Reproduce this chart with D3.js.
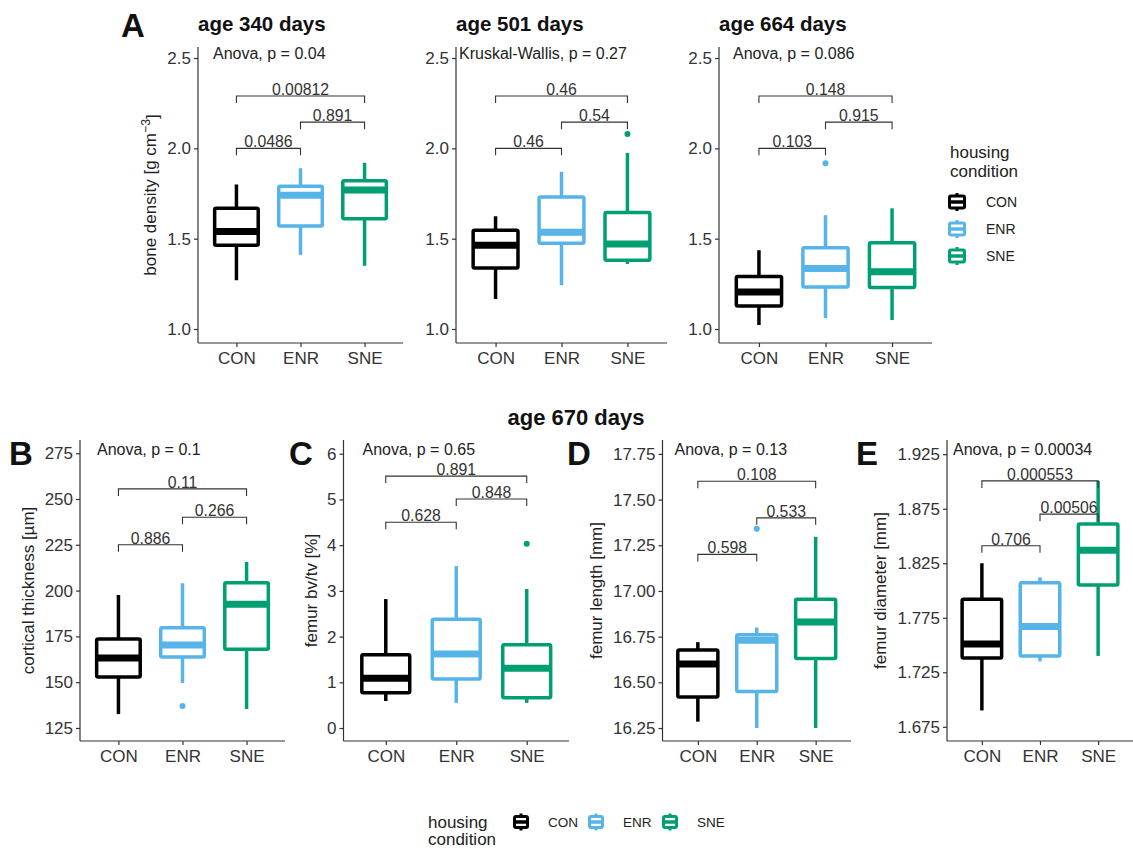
<!DOCTYPE html>
<html>
<head>
<meta charset="utf-8">
<script src="https://cdn.jsdelivr.net/npm/d3@7"></script>
<style>
  body { margin: 0; background: #fff; }
  svg { font-family: "Liberation Sans", Arial, sans-serif; }
</style>
</head>
<body>
<svg id="chart" width="1133" height="848"></svg>
<script>
// groups and colours
const groups = ["CON", "ENR", "SNE"];
const groupColors = ["#000000", "#56B4E9", "#009E73"];

// box stats per group: [whisker low, q1, median, q3, whisker high]
const density340 = [[1.27, 1.464, 1.54, 1.668, 1.80], [1.41, 1.57, 1.74, 1.79, 1.89], [1.35, 1.61, 1.77, 1.82, 1.92]];
const density340Out = [[], [], []];
const density501 = [[1.166, 1.337, 1.464, 1.547, 1.624], [1.243, 1.475, 1.536, 1.73, 1.87], [1.36, 1.38, 1.47, 1.645, 1.975]];
const density501Out = [[], [], [2.08]];
const density664 = [[1.022, 1.127, 1.205, 1.29, 1.436], [1.06, 1.232, 1.335, 1.45, 1.63], [1.05, 1.23, 1.317, 1.477, 1.668]];
const density664Out = [[], [1.917], []];
const cortical = [[132.6, 152.8, 163.2, 173.6, 197.6], [149.6, 163.8, 170.3, 179.7, 204], [135.4, 168, 192.6, 204.3, 215.6]];
const corticalOut = [[], [137], []];
const bvtv = [[0.59, 0.77, 1.09, 1.60, 2.82], [0.55, 1.07, 1.62, 2.38, 3.54], [0.55, 0.66, 1.31, 1.82, 3.04]];
const bvtvOut = [[], [], [4.03]];
const femurLength = [[16.285, 16.42, 16.6, 16.677, 16.72], [16.25, 16.45, 16.73, 16.76, 16.80], [16.25, 16.63, 16.83, 16.955, 17.296]];
const femurLengthOut = [[], [17.34], []];
const femurDiam = [[1.69, 1.738, 1.751, 1.792, 1.825], [1.735, 1.740, 1.767, 1.807, 1.812], [1.74, 1.805, 1.837, 1.861, 1.9005]];
const femurDiamOut = [[], [], []];

// pairwise brackets: [from, to, label, y]
const density340Brk = [[0, 1, "0.0486", 2.0], [1, 2, "0.891", 2.145], [0, 2, "0.00812", 2.29]];
const density501Brk = [[0, 1, "0.46", 2.0], [1, 2, "0.54", 2.145], [0, 2, "0.46", 2.29]];
const density664Brk = [[0, 1, "0.103", 2.0], [1, 2, "0.915", 2.145], [0, 2, "0.148", 2.29]];
const corticalBrk = [[0, 1, "0.886", 225], [1, 2, "0.266", 240], [0, 2, "0.11", 255.5]];
const bvtvBrk = [[0, 1, "0.628", 4.5], [1, 2, "0.848", 5.01], [0, 2, "0.891", 5.51]];
const femurLengthBrk = [[0, 1, "0.598", 17.2], [1, 2, "0.533", 17.4], [0, 2, "0.108", 17.6]];
const femurDiamBrk = [[0, 1, "0.706", 1.841], [1, 2, "0.00506", 1.870], [0, 2, "0.000553", 1.9005]];

// global tests
const globalTests = ["Anova, p = 0.04", "Kruskal-Wallis, p = 0.27", "Anova, p = 0.086", "Anova, p = 0.1", "Anova, p = 0.65", "Anova, p = 0.13", "Anova, p = 0.00034"];

// y tick values
const densityTicks = [1.0, 1.5, 2.0, 2.5];
const corticalTicks = [125, 150, 175, 200, 225, 250, 275];
const bvtvTicks = [0, 1, 2, 3, 4, 5, 6];
const lengthTicks = [16.25, 16.5, 16.75, 17.0, 17.25, 17.5, 17.75];
const diamTicks = [1.675, 1.725, 1.775, 1.825, 1.875, 1.925];

const svg = d3.select("#chart");
const axisColor = "#333333";

const panels = [
  { stats: density340, out: density340Out, brk: density340Brk, test: globalTests[0], ticks: densityTicks, fmt: ".1f",
    x0: 198, x1: 403, y0: 47, y1: 343, dom: [0.9225, 2.561], testDx: 15, testDy: 11.5, title: "age 340 days",
    yTitle: ["bone density [g cm", "\u22123", "]"], yTitleX: 150, letter: "A", letterX: 121, letterY: 37 },
  { stats: density501, out: density501Out, brk: density501Brk, test: globalTests[1], ticks: densityTicks, fmt: ".1f",
    x0: 456, x1: 667, y0: 47, y1: 343, dom: [0.9225, 2.561], testDx: 3, testDy: 11.5, title: "age 501 days" },
  { stats: density664, out: density664Out, brk: density664Brk, test: globalTests[2], ticks: densityTicks, fmt: ".1f",
    x0: 719, x1: 932, y0: 47, y1: 343, dom: [0.9225, 2.561], testDx: 14, testDy: 11.5, title: "age 664 days" },
  { stats: cortical, out: corticalOut, brk: corticalBrk, test: globalTests[3], ticks: corticalTicks, fmt: "d",
    x0: 80, x1: 285, y0: 440, y1: 741, dom: [117.9, 282.2], testDx: 17, testDy: 15,
    yTitle: ["cortical thickness [\u00b5m]"], yTitleX: 28, letter: "B", letterX: 9, letterY: 465 },
  { stats: bvtv, out: bvtvOut, brk: bvtvBrk, test: globalTests[4], ticks: bvtvTicks, fmt: "d",
    x0: 343.5, x1: 569, y0: 440, y1: 741, dom: [-0.284, 6.30], testDx: 19, testDy: 15,
    yTitle: ["femur bv/tv [%]"], yTitleX: 311, letter: "C", letterX: 289, letterY: 465 },
  { stats: femurLength, out: femurLengthOut, brk: femurLengthBrk, test: globalTests[5], ticks: lengthTicks, fmt: ".2f",
    x0: 662.5, x1: 851, y0: 440, y1: 741, dom: [16.179, 17.826], testDx: 12, testDy: 15,
    yTitle: ["femur length [mm]"], yTitleX: 596, letter: "D", letterX: 567, letterY: 465 },
  { stats: femurDiam, out: femurDiamOut, brk: femurDiamBrk, test: globalTests[6], ticks: diamTicks, fmt: ".3f",
    x0: 947, x1: 1133, y0: 440, y1: 741, dom: [1.662, 1.938], testDx: 6, testDy: 15,
    yTitle: ["femur diameter [mm]"], yTitleX: 880, letter: "E", letterX: 856, letterY: 465 }
];

panels.forEach(p => drawPanel(p));

function drawPanel(p) {
  let x = d3.scalePoint().domain(groups).range([p.x0, p.x1]).padding(0.6);
  let y = d3.scaleLinear().domain(p.dom).range([p.y1, p.y0]);
  let step = x.step();
  let boxW = step * 0.68;
  let g = svg.append("g");

  // axes
  let ax = g.append("g").attr("transform", `translate(0,${p.y1})`)
    .call(d3.axisBottom(x).tickSize(4).tickPadding(5));
  ax.select(".domain").attr("d", `M${p.x0},0H${p.x1}`);
  let ay = g.append("g").attr("transform", `translate(${p.x0},0)`)
    .call(d3.axisLeft(y).tickValues(p.ticks).tickFormat(d3.format(p.fmt)).tickSize(4).tickPadding(3));
  ay.select(".domain").attr("d", `M0,${p.y0}V${p.y1}`);
  [ax, ay].forEach(a => {
    a.selectAll(".domain, line").attr("stroke", axisColor).attr("stroke-width", 1.2);
    a.selectAll("text").attr("fill", "#333").attr("font-size", 17).attr("font-family", "Liberation Sans, Arial, sans-serif");
  });

  // boxes
  let boxes = g.selectAll("g.box").data(p.stats).enter().append("g").attr("class", "box");
  boxes.each(function (s, i) {
    let b = d3.select(this);
    let cx = x(groups[i]);
    let col = groupColors[i];
    b.append("line").attr("x1", cx).attr("x2", cx).attr("y1", y(s[0])).attr("y2", y(s[1]))
      .attr("stroke", col).attr("stroke-width", 3.5);
    b.append("line").attr("x1", cx).attr("x2", cx).attr("y1", y(s[3])).attr("y2", y(s[4]))
      .attr("stroke", col).attr("stroke-width", 3.5);
    b.append("rect").attr("x", cx - boxW / 2).attr("width", boxW)
      .attr("y", y(s[3])).attr("height", y(s[1]) - y(s[3]))
      .attr("fill", "#fff").attr("stroke", col).attr("stroke-width", 3.5).attr("rx", 1.5);
    b.append("line").attr("x1", cx - boxW / 2).attr("x2", cx + boxW / 2).attr("y1", y(s[2])).attr("y2", y(s[2]))
      .attr("stroke", col).attr("stroke-width", 7);
    b.selectAll("circle").data(p.out[i]).enter().append("circle")
      .attr("cx", cx).attr("cy", d => y(d)).attr("r", 3).attr("fill", col);
  });

  // brackets
  p.brk.forEach(bk => {
    let xa = x(groups[bk[0]]), xb = x(groups[bk[1]]), yy = y(bk[3]);
    g.append("path").attr("d", `M${xa},${yy + 7}V${yy}H${xb}V${yy + 7}`)
      .attr("fill", "none").attr("stroke", axisColor).attr("stroke-width", 1.1);
    g.append("text").attr("x", (xa + xb) / 2).attr("y", yy - 1).attr("text-anchor", "middle")
      .attr("font-size", 15.8).attr("fill", "#333").text(bk[2]);
  });

  // global test label
  g.append("text").attr("x", p.x0 + p.testDx).attr("y", p.y0 + p.testDy)
    .attr("font-size", 16).attr("fill", "#222").text(p.test);

  if (p.title) {
    g.append("text").attr("x", p.x0).attr("y", 31).attr("font-size", 20.5)
      .attr("font-weight", "bold").attr("fill", "#111").text(p.title);
  }
  if (p.yTitle) {
    let t = g.append("text")
      .attr("transform", `translate(${p.yTitleX},${(p.y0 + p.y1) / 2}) rotate(-90)`)
      .attr("text-anchor", "middle").attr("dy", "0.35em")
      .attr("font-size", 17).attr("fill", "#222");
    t.append("tspan").text(p.yTitle[0]);
    if (p.yTitle.length > 1) {
      t.append("tspan").attr("dy", "-0.45em").attr("font-size", 12.2).text(p.yTitle[1]);
      t.append("tspan").attr("dy", "0.45em").text(p.yTitle[2]);
    }
  }
  if (p.letter) {
    g.append("text").attr("x", p.letterX).attr("y", p.letterY).attr("font-size", 33)
      .attr("font-weight", "bold").attr("fill", "#111").text(p.letter);
  }
}

// section title
svg.append("text").attr("x", 576).attr("y", 425).attr("text-anchor", "middle")
  .attr("font-size", 22).attr("font-weight", "bold").attr("fill", "#111").text("age 670 days");

function drawKey(g, col, cx, cy, w, h) {
  g.append("line").attr("x1", cx).attr("x2", cx).attr("y1", cy - h / 2 - 3).attr("y2", cy + h / 2 + 3)
    .attr("stroke", col).attr("stroke-width", 3);
  g.append("rect").attr("x", cx - w / 2).attr("y", cy - h / 2).attr("width", w).attr("height", h)
    .attr("fill", "#fff").attr("stroke", col).attr("stroke-width", 3).attr("rx", 1.5);
  g.append("line").attr("x1", cx - w / 2).attr("x2", cx + w / 2).attr("y1", cy).attr("y2", cy)
    .attr("stroke", col).attr("stroke-width", 3.5);
}

// right legend
let legR = svg.append("g");
legR.append("text").attr("x", 950).attr("y", 158).attr("font-size", 17).attr("fill", "#222").text("housing");
legR.append("text").attr("x", 950).attr("y", 177).attr("font-size", 17).attr("fill", "#222").text("condition");
groups.forEach((grp, i) => {
  let cy = 202 + i * 27;
  drawKey(legR, groupColors[i], 957, cy, 15, 12);
  legR.append("text").attr("x", 986).attr("y", cy).attr("dy", "0.35em")
    .attr("font-size", 14).attr("fill", "#222").text(grp);
});

// bottom legend
let legB = svg.append("g");
legB.append("text").attr("x", 428).attr("y", 828).attr("font-size", 17).attr("fill", "#222").text("housing");
legB.append("text").attr("x", 428).attr("y", 845).attr("font-size", 17).attr("fill", "#222").text("condition");
const keyX = [521, 596, 670];
groups.forEach((grp, i) => {
  drawKey(legB, groupColors[i], keyX[i], 822, 13, 11);
  legB.append("text").attr("x", keyX[i] + 27).attr("y", 822).attr("dy", "0.35em")
    .attr("font-size", 13.5).attr("fill", "#222").text(grp);
});
</script>
</body>
</html>
